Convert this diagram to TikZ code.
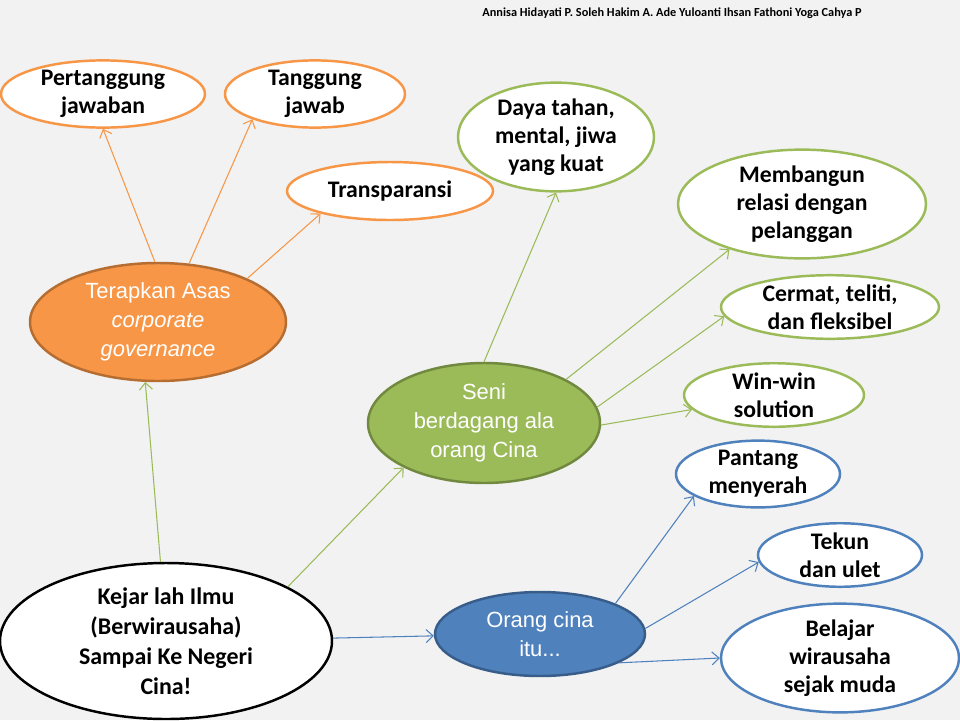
\documentclass[tikz,border=0pt]{standalone}
\usepackage{fontspec}
\setmainfont{Carlito}
\newfontfamily\arialfont{Liberation Sans}
\usepackage{xcolor}
\usetikzlibrary{arrows.meta,shapes.geometric}
\definecolor{paper}{HTML}{F2F2F2}
\definecolor{orng}{HTML}{F79646}
\definecolor{orngdark}{HTML}{B66D31}
\definecolor{grn}{HTML}{9BBB59}
\definecolor{grndark}{HTML}{71893F}
\definecolor{blu}{HTML}{4F81BD}
\definecolor{bludark}{HTML}{385D8A}
\tikzset{
  bubble/.style={ellipse,line width=1.4pt,fill=white,inner sep=0pt,align=center,
    font=\fontsize{13.5}{16}\selectfont\bfseries},
  leaforng/.style={bubble,draw=orng},
  leafgrn/.style={bubble,draw=grn},
  leafblu/.style={bubble,draw=blu},
  hub/.style={ellipse,line width=1.4pt,inner sep=0pt,align=center,text=white,
    font=\arialfont\fontsize{12.5}{16.5}\selectfont},
  root/.style={bubble,draw=black,font=\fontsize{13.6}{17}\selectfont\bfseries},
  link/.style={-{Straight Barb[length=1.4mm,width=2.6mm]},line width=.6pt}
}
\begin{document}
\begin{tikzpicture}
\fill[paper] (0,0) rectangle (19.2,-14.4);
\useasboundingbox (0,0) rectangle (19.2,-14.4);

\node[font=\fontsize{7}{8}\selectfont\bfseries] (names) at (13.44,-0.26) {Annisa Hidayati P. Soleh Hakim A. Ade Yuloanti Ihsan Fathoni Yoga Cahya P};

% orange branch
\node[hub,fill=orng,draw=orngdark,minimum width=5.12cm,minimum height=2.36cm] (asas) at (3.16,-6.44) {Terapkan Asas\\\textit{corporate}\\\textit{governance}};
\node[leaforng,minimum width=4.08cm,minimum height=1.12cm] (pertanggung) at (2.06,-1.88) {Pertanggung\\jawaban};
\node[leaforng,minimum width=3.6cm,minimum height=1.12cm] (tanggung) at (6.30,-1.88) {Tanggung\\jawab};
\node[leaforng,minimum width=4.12cm,minimum height=1.16cm] (transparansi) at (7.80,-3.82) {Transparansi};

% green branch
\node[hub,fill=grn,draw=grndark,minimum width=4.64cm,minimum height=2.4cm] (seni) at (9.68,-8.46) {Seni\\berdagang ala\\orang Cina};
\node[leafgrn,minimum width=3.92cm,minimum height=2.0cm] (daya) at (11.12,-2.74) {Daya tahan,\\mental, jiwa\\yang kuat};
\node[leafgrn,minimum width=4.96cm,minimum height=1.92cm] (relasi) at (16.04,-4.08) {Membangun\\relasi dengan\\pelanggan};
\node[leafgrn,minimum width=4.36cm,minimum height=1.2cm] (cermat) at (16.60,-6.14) {Cermat, teliti,\\dan fleksibel};
\node[leafgrn,minimum width=3.6cm,minimum height=1.2cm] (winwin) at (15.48,-7.90) {Win-win\\solution};

% blue branch
\node[hub,fill=blu,draw=bludark,minimum width=4.2cm,minimum height=1.68cm] (orang) at (10.80,-12.68) {Orang cina\\itu...};
\node[leafblu,minimum width=3.28cm,minimum height=1.12cm] (pantang) at (15.16,-9.48) {Pantang\\menyerah};
\node[leafblu,minimum width=3.28cm,minimum height=1.12cm] (tekun) at (16.80,-11.10) {Tekun\\dan ulet};
\node[leafblu,minimum width=4.76cm,minimum height=1.92cm] (belajar) at (16.80,-13.16) {Belajar\\wirausaha\\sejak muda};

\node[root,minimum width=6.64cm,minimum height=3.12cm] (kejar) at (3.32,-12.82) {Kejar lah Ilmu\\(Berwirausaha)\\Sampai Ke Negeri\\Cina!};

\draw[link,grn] (kejar.94) -- (asas.258);
\draw[link,grn] (kejar.24) -- (seni.209);
\draw[link,blu] (kejar.1) -- (orang.181);

\draw[link,orng] (asas.93) -- (pertanggung.270);
\draw[link,orng] (asas.62) -- (tanggung.202);
\draw[link,orng] (asas.26) -- (transparansi.198);

\draw[link,grn] (seni.90) -- (daya.270);
\draw[link,grn] (seni.28) -- (relasi.212);
\draw[link,grn] (seni.8) -- (cermat.185);
\draw[link,grn] (seni.-1) -- (winwin.190);

\draw[link,blu] (orang.22) -- (pantang.199);
\draw[link,blu] (orang.3) -- (tekun.185);
\draw[link,blu] (orang.-20) -- (belajar.180);
\end{tikzpicture}
\end{document}
